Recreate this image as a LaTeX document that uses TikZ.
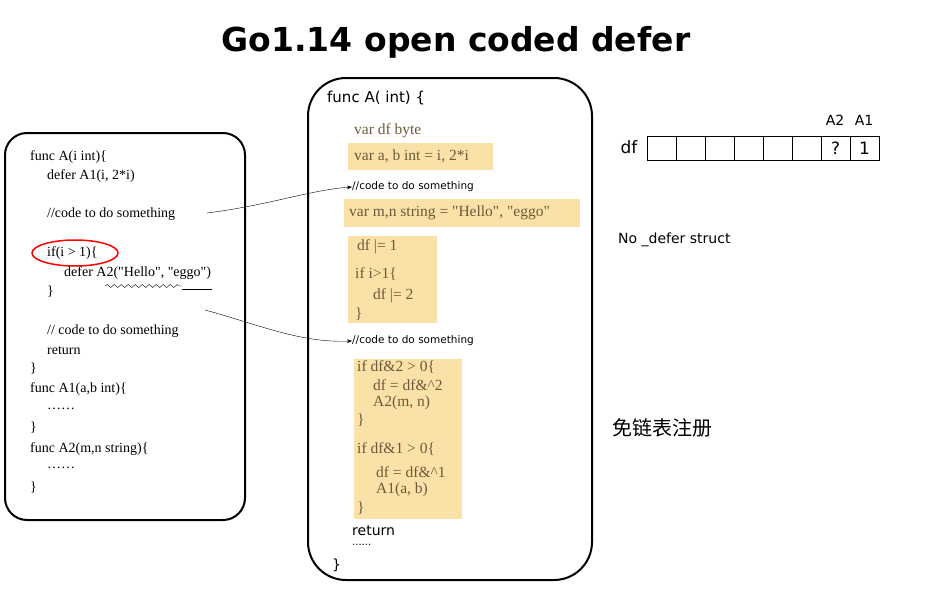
\documentclass[tikz,border=0pt]{standalone}
\usepackage{fontspec}
\setmainfont{Liberation Serif}
\newfontfamily\hand{DejaVu Sans}
\newfontfamily\cjk{Noto Sans CJK SC}
\usetikzlibrary{decorations.pathmorphing,arrows.meta}
\definecolor{hl}{HTML}{FBE0A8}
\definecolor{code}{HTML}{6B5A3A}
\begin{document}
\begin{tikzpicture}[x=1pt,y=-1pt,
  box/.style={draw,line width=2pt},
  lc/.style={anchor=west,font=\fontsize{14}{16}\selectfont,inner sep=0},
  mc/.style={anchor=west,font=\fontsize{15.5}{17}\selectfont,text=code,inner sep=0},
  cmt/.style={anchor=west,font=\hand\fontsize{10.5}{12}\selectfont,inner sep=0},
  hlr/.style={fill=hl,draw=none},
  cell/.style={draw,minimum width=29pt,minimum height=24pt,inner sep=0,font=\hand\fontsize{17}{19}\selectfont},
  arr/.style={-{Stealth[length=5pt]},thin}]
\useasboundingbox[fill=white] (0,0) rectangle (928,602);
\node[font=\hand\bfseries\fontsize{33}{36}\selectfont] (title) at (456,42) {Go1.14 open coded defer};
% left box
\draw[box,rounded corners=22pt] (5,133) rectangle (245,520);
\node[lc] (l1) at (30,157) {func A(i int)\{};
\node[lc] (l2) at (47,176) {defer A1(i, 2*i)};
\node[lc] (l3) at (47,214) {//code to do something};
\node[lc] (l4) at (47,253) {if(i > 1)\{};
\node[lc] (l5) at (64,273) {defer A2(\textquotedbl Hello\textquotedbl, \textquotedbl eggo\textquotedbl)};
\node[lc] (l6) at (47,292) {\}};
\node[lc] (l7) at (47,331) {// code to do something};
\node[lc] (l8) at (47,351) {return};
\node[lc] (l9) at (30,369) {\}};
\node[lc] (l10) at (30,389) {func A1(a,b int)\{};
\node[lc] (l11) at (47,409) {……};
\node[lc] (l12) at (30,428) {\}};
\node[lc] (l13) at (30,449) {func A2(m,n string)\{};
\node[lc] (l14) at (47,468) {……};
\node[lc] (l15) at (30,488) {\}};
\draw[red,line width=1.5pt] (75,253) ellipse (43pt and 13pt);
\draw[decorate,decoration={snake,amplitude=1.5pt,segment length=7pt}] (105,286) -- (182,286);
\draw (182,289) -- (212,289);
% middle box
\draw[box,rounded corners=38pt] (308,78) rectangle (592,580);
\node[anchor=west,font=\hand\fontsize{15}{17}\selectfont,inner sep=0] (m0) at (327,98) {func A( int) \{};
\node[mc] (m1) at (354,131) {var df byte};
\fill[hlr] (348,143) rectangle (493,170);
\node[mc] (m2) at (354,156) {var a, b int = i, 2*i};
\node[cmt] (c1) at (352,187) {//code to do something};
\fill[hlr] (344,199) rectangle (580,227);
\node[mc] (m3) at (349,213) {var m,n string = \textquotedbl Hello\textquotedbl, \textquotedbl eggo\textquotedbl};
\fill[hlr] (348,236) rectangle (437,323);
\node[mc] (m4) at (357,247) {df |= 1};
\node[mc] (m5) at (355,274) {if i>1\{};
\node[mc] (m6) at (373,296) {df |= 2};
\node[mc] (m7) at (355,314) {\}};
\node[cmt] (c2) at (352,341) {//code to do something};
\fill[hlr] (354,359) rectangle (462,519);
\node[mc] (m8) at (357,367) {if df\&2 > 0\{};
\node[mc] (m9) at (373,385) {df = df\&\textasciicircum 2};
\node[mc] (m10) at (373,403) {A2(m, n)};
\node[mc] (m11) at (357,420) {\}};
\node[mc] (m12) at (357,449) {if df\&1 > 0\{};
\node[mc] (m13) at (376,472) {df = df\&\textasciicircum 1};
\node[mc] (m14) at (376,490) {A1(a, b)};
\node[mc] (m15) at (357,508) {\}};
\node[anchor=west,font=\hand\fontsize{14}{16}\selectfont,inner sep=0] (m16) at (352,531) {return};
\node[anchor=west,font=\hand\fontsize{10}{12}\selectfont,inner sep=0] (m17) at (352,545) {......};
\node[anchor=west,font=\hand\fontsize{14}{16}\selectfont,inner sep=0] (m18) at (332,565) {\}};
% arrows
\coordinate (s1) at (207,213);
\coordinate (s2) at (205,310);
\draw[arr] (s1) .. controls (270,205) and (310,190) .. (c1.west);
\draw[arr] (s2) .. controls (260,325) and (300,343) .. (c2.west);
% df
\node[font=\hand\fontsize{17}{19}\selectfont] (df) at (629,147) {df};
\foreach \i/\t in {0/,1/,2/,3/,4/,5/,6/?,7/1}
  \node[cell] (cell\i) at (661.5+29*\i,148) {\t};
\node[font=\hand\fontsize{14}{16}\selectfont] (a2) at (835,120) {A2};
\node[font=\hand\fontsize{14}{16}\selectfont] (a1) at (864,120) {A1};
\node[anchor=west,font=\hand\fontsize{14}{16}\selectfont,inner sep=0] (ns) at (618,240) {No \_defer struct};
\node[anchor=west,font=\cjk\fontsize{20}{22}\selectfont,inner sep=0] (cn) at (612,428) {免链表注册};
\end{tikzpicture}
\end{document}
